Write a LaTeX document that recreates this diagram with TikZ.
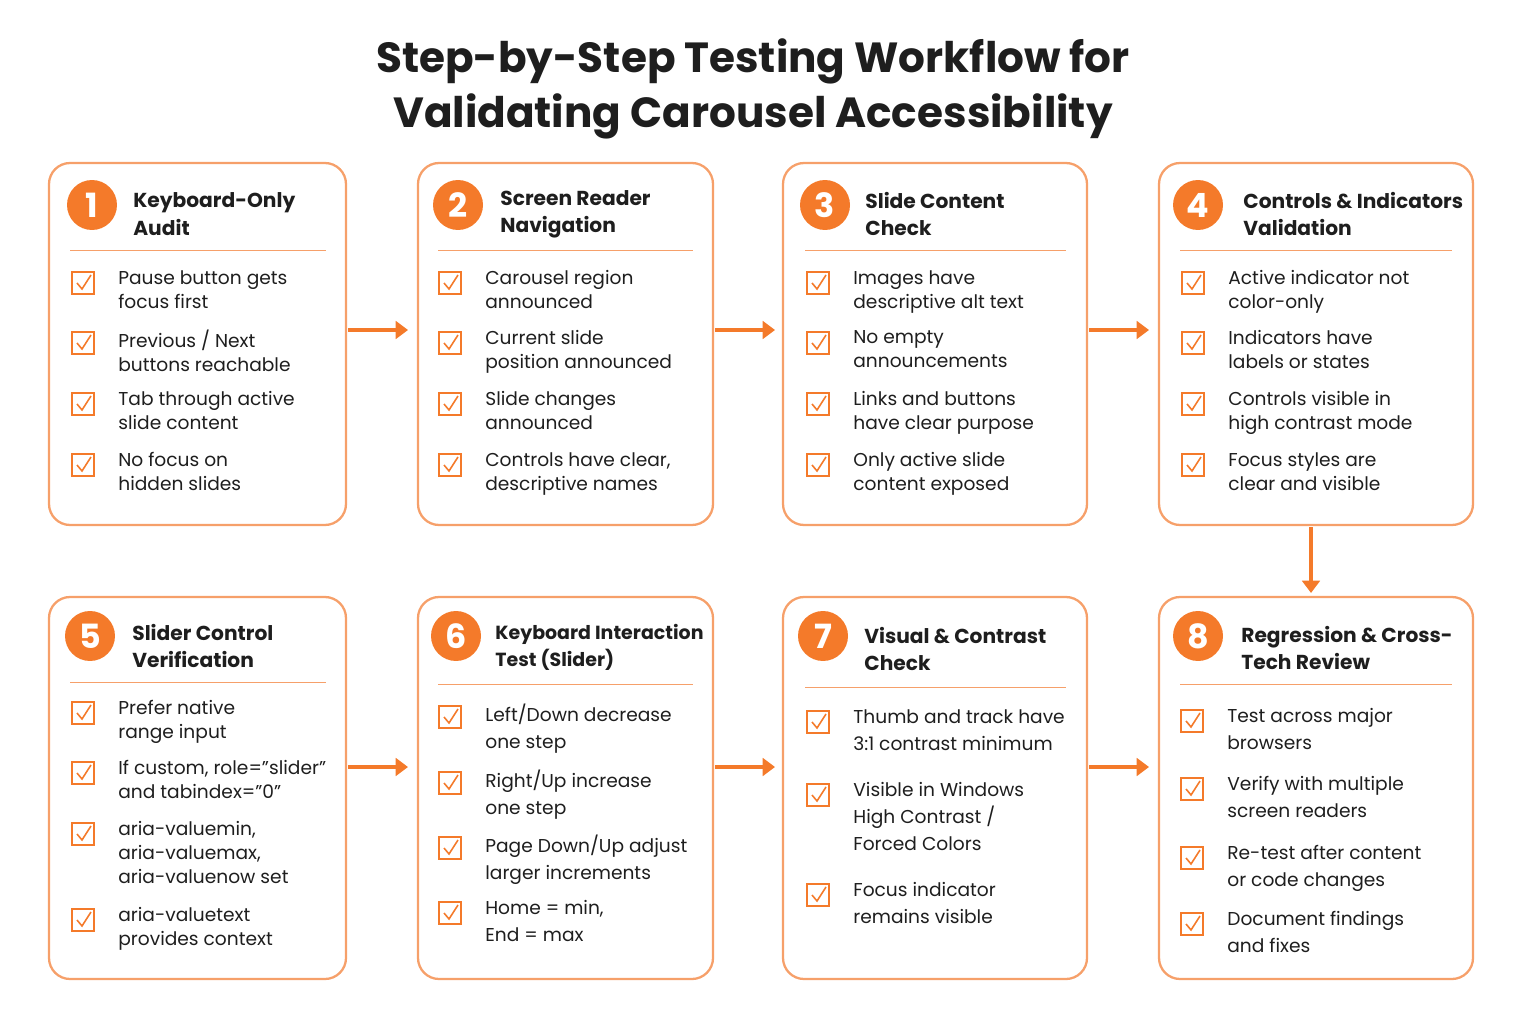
\documentclass[tikz,border=0pt]{standalone}
\usepackage{fontspec}
\setmainfont{Poppins}
\usetikzlibrary{arrows.meta}
\definecolor{brand}{HTML}{F47A2A}
\definecolor{edge}{HTML}{F6A06A}
\definecolor{ink}{HTML}{1E1E1E}
\tikzset{
  card/.style={draw=edge, line width=1.3pt, rounded corners=12pt},
  num/.style={circle, fill=brand, text=white, minimum size=1cm, inner sep=0pt, font=\fontsize{19}{19}\selectfont\bfseries},
  head/.style={anchor=west, align=left, inner sep=0pt, text=ink, font=\fontsize{11.5}{15.5}\selectfont\bfseries},
  item/.style={anchor=north west, align=left, inner sep=0pt, text=ink, font=\fontsize{10.6}{13.7}\selectfont},
  itemw/.style={item, font=\fontsize{10.6}{15.3}\selectfont},
  tick/.style={draw=brand, line width=0.8pt, minimum size=0.44cm, inner sep=0pt},
  flow/.style={draw=brand, line width=2pt, -{Triangle[length=7pt,width=10pt]}},
}
\newcommand{\q}{\symbol{34}}
% checkbox with tick, then its text
\newcommand{\chk}[4][item]{%
  \node[tick] at (#2-35,#3+6) {};
  \draw[brand, line width=0.9pt] (#2-41,#3+6) -- (#2-36,#3+12) -- (#2-27,#3-2);
  \node[#1] at (#2,#3-7) {#4};}
\begin{document}
\begin{tikzpicture}[x=0.02cm,y=-0.02cm]
\useasboundingbox (0,0) rectangle (1523,1023);
\node[text=ink, align=center, font=\fontsize{24}{31.5}\selectfont\bfseries] (title) at (753,89)
  {Step-by-Step Testing Workflow for\\Validating Carousel Accessibility};

% cards
\draw[card] (49,163) rectangle (346,525);
\draw[card] (418,163) rectangle (713,525);
\draw[card] (783,163) rectangle (1087,525);
\draw[card] (1159,163) rectangle (1473,525);
\draw[card] (49,597) rectangle (346,979);
\draw[card] (418,597) rectangle (713,979);
\draw[card] (783,597) rectangle (1087,979);
\draw[card] (1159,597) rectangle (1473,979);

% headers
\node[num] (n1) at (92,205) {1};   \node[head] (h1) at (133,214) {Keyboard-Only\\Audit};
\node[num] (n2) at (458,205) {2};  \node[head] (h2) at (500,214) {Screen Reader\\Navigation};
\node[num] (n3) at (825,205) {3};  \node[head] (h3) at (865,214) {Slide Content\\Check};
\node[num] (n4) at (1198,205) {4}; \node[head] (h4) at (1243,214) {Controls \& Indicators\\Validation};
\node[num] (n5) at (90,636) {5};   \node[head] (h5) at (132,646) {Slider Control\\Verification};
\node[num] (n6) at (456,636) {6};  \node[head, font=\fontsize{10.8}{15.5}\selectfont\bfseries] (h6) at (495,647) {Keyboard Interaction\\Test (Slider)};
\node[num] (n7) at (823,636) {7};  \node[head] (h7) at (864,649) {Visual \& Contrast\\Check};
\node[num] (n8) at (1198,636) {8}; \node[head] (h8) at (1241,648) {Regression \& Cross-\\Tech Review};
\draw[edge] (70,250) -- (326,250) (438,250) -- (693,250) (805,250) -- (1066,250) (1180,250) -- (1452,250);
\draw[edge] (70,682) -- (326,682) (438,684) -- (693,684) (805,687) -- (1066,687) (1180,684) -- (1452,684);

% items, row 1
\chk{118}{277}{Pause button gets\\focus first}
\chk{118}{337}{Previous / Next\\buttons reachable}
\chk{118}{398}{Tab through active\\slide content}
\chk{118}{459}{No focus on\\hidden slides}
\chk{485}{277}{Carousel region\\announced}
\chk{485}{337}{Current slide\\position announced}
\chk{485}{398}{Slide changes\\announced}
\chk{485}{459}{Controls have clear,\\descriptive names}
\chk{853}{277}{Images have\\descriptive alt text}
\chk{853}{337}{No empty\\announcements}
\chk{853}{398}{Links and buttons\\have clear purpose}
\chk{853}{459}{Only active slide\\content exposed}
\chk{1228}{277}{Active indicator not\\color-only}
\chk{1228}{337}{Indicators have\\labels or states}
\chk{1228}{398}{Controls visible in\\high contrast mode}
\chk{1228}{459}{Focus styles are\\clear and visible}

% items, row 2
\chk{118}{707}{Prefer native\\range input}
\chk{118}{767}{If custom, role=\q slider\q\\and tabindex=\q 0\q}
\chk{118}{828}{aria-valuemin,\\aria-valuemax,\\aria-valuenow set}
\chk{118}{914}{aria-valuetext\\provides context}
\chk[itemw]{485}{711}{Left/Down decrease\\one step}
\chk[itemw]{485}{777}{Right/Up increase\\one step}
\chk[itemw]{485}{842}{Page Down/Up adjust\\larger increments}
\chk[itemw]{485}{907}{Home = min,\\End = max}
\chk[itemw]{853}{716}{Thumb and track have\\3:1 contrast minimum}
\chk[itemw]{853}{789}{Visible in Windows\\High Contrast /\\Forced Colors}
\chk[itemw]{853}{889}{Focus indicator\\remains visible}
\chk[itemw]{1227}{715}{Test across major\\browsers}
\chk[itemw]{1227}{783}{Verify with multiple\\screen readers}
\chk[itemw]{1227}{852}{Re-test after content\\or code changes}
\chk[itemw]{1227}{918}{Document findings\\and fixes}

% flow
\coordinate (a1) at (348,330); \coordinate (b1) at (408,330);
\coordinate (a2) at (715,330); \coordinate (b2) at (775,330);
\coordinate (a3) at (1089,330); \coordinate (b3) at (1149,330);
\coordinate (d1) at (1311,527); \coordinate (d2) at (1311,593);
\coordinate (a5) at (348,767); \coordinate (b5) at (408,767);
\coordinate (a6) at (715,767); \coordinate (b6) at (775,767);
\coordinate (a7) at (1089,767); \coordinate (b7) at (1149,767);
\foreach \s/\t in {a1/b1,a2/b2,a3/b3,d1/d2,a5/b5,a6/b6,a7/b7}
  \draw[flow] (\s) -- (\t);
\end{tikzpicture}
\end{document}
